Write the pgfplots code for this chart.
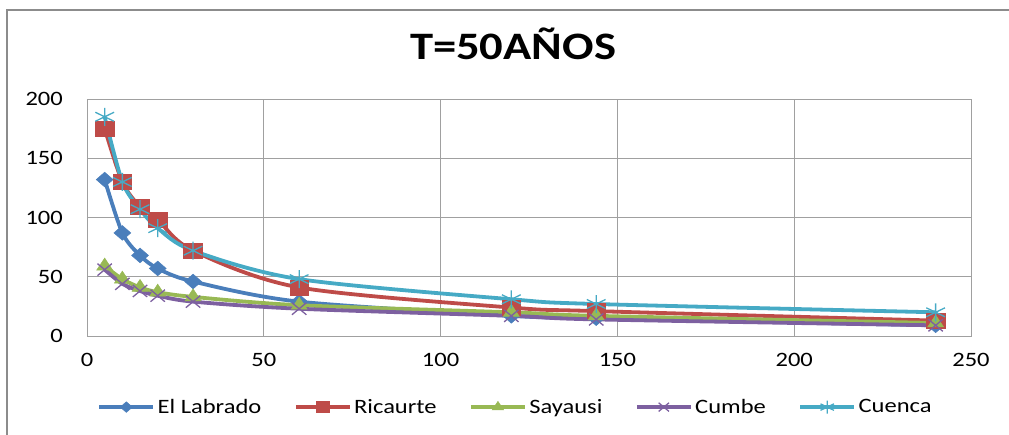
\documentclass[border=0pt]{standalone}
\usepackage{pgfplots}
\pgfplotsset{compat=1.18}
\usepackage{fontspec}
\setmainfont{Carlito}[FakeStretch=1.2]
\definecolor{cBlue}{HTML}{4A7EBB}
\definecolor{cRed}{HTML}{BE4B48}
\definecolor{cGreen}{HTML}{98B954}
\definecolor{cPurple}{HTML}{7D60A0}
\definecolor{cAqua}{HTML}{46AAC5}
\definecolor{cGrid}{HTML}{A0A0A0}
\definecolor{cFrame}{HTML}{8C8C8C}
\begin{document}
\begin{tikzpicture}
\draw[cFrame, line width=1.5bp] (-80bp,326bp) rectangle (925bp,-102bp);
\begin{axis}[
  at={(0,0)}, anchor=south west,
  scale only axis, width=884bp, height=237bp,
  xmin=0, xmax=250, ymin=0, ymax=200,
  xtick={0,50,...,250}, ytick={0,50,...,200},
  grid=major,
  grid style={color=cGrid, line width=0.8bp},
  axis line style={color=cGrid, line width=0.8bp},
  major tick length=0pt,
  /pgf/number format/assume math mode=true,
  tick label style={font=\fontsize{20.5}{24}\selectfont, inner sep=0pt},
  yticklabel style={anchor=east},
  yticklabel shift=24bp,
  xticklabel style={anchor=north},
  xticklabel shift=17bp,
  title={T=50AÑOS},
  title style={at={(0.482,1.207)}, anchor=center, font=\fontsize{39}{44}\selectfont\bfseries, inner sep=0pt},
  legend columns=5,
  legend style={at={(0.485,-0.30)}, anchor=center, draw=none, fill=none, inner sep=0pt,
    font=\fontsize{20.5}{24}\selectfont,
    nodes={inner sep=2.5bp},
    /tikz/every even column/.append style={column sep=30bp}},
  legend image code/.code={\draw[mark repeat=2,mark phase=2,/tikz/every mark/.append style={scale=0.72}] plot coordinates {(0bp,0bp)(27bp,0bp)(54bp,0bp)};},
  every axis plot/.append style={line width=3.8bp, smooth, tension=0.5},
  clip=false,
]
\addplot[color=cBlue, mark=square*, mark size=5.2bp, mark options={xscale=1.15, rotate=45, fill=cBlue, line width=0.5bp}]
  coordinates {(5,132)(10,87)(15,68)(20,57)(30,46)(60,29)(120,17)(144,15)(240,9)};
\addlegendentry{El Labrado}
\addplot[color=cRed, mark=square*, mark size=7.5bp, mark options={xscale=1.25, fill=cRed, line width=0.5bp}]
  coordinates {(5,175)(10,130)(15,109)(20,98)(30,72)(60,41)(120,24)(144,21)(240,13)};
\addlegendentry{Ricaurte}
\addplot[color=cGreen, mark=triangle*, mark size=8bp, mark options={xscale=1.15, fill=cGreen, line width=0.5bp}]
  coordinates {(5,59)(10,48)(15,41)(20,37)(30,33)(60,26)(120,20)(144,17)(240,11)};
\addlegendentry{Sayausi}
\addplot[color=cPurple, mark=x, mark size=8.5bp, mark options={xscale=1.2, line width=1.3bp}]
  coordinates {(5,56)(10,44)(15,38)(20,34)(30,29)(60,23)(120,17)(144,14)(240,9)};
\addlegendentry{Cumbe}
\addplot[color=cAqua, mark=asterisk, mark size=9bp, mark options={xscale=1.2, line width=1.3bp}]
  coordinates {(5,185)(10,130)(15,107)(20,91)(30,72)(60,48)(120,31)(144,27)(240,20)};
\addlegendentry{Cuenca}
\end{axis}
\pgfresetboundingbox
\path[use as bounding box] (-87bp,-99bp) rectangle (922bp,336bp);
\end{tikzpicture}
\end{document}
